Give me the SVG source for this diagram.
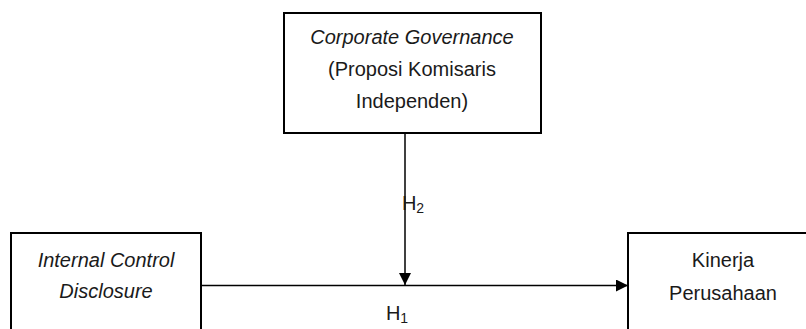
<svg xmlns="http://www.w3.org/2000/svg" width="806" height="329" viewBox="0 0 806 329">
<style>
.box{fill:#fff;stroke:#000;stroke-width:2}
.t{font-family:"Liberation Sans",Arial,sans-serif;font-size:20px;fill:#1a1a1a;text-anchor:middle}
.i{font-style:italic}
.ln{stroke:#000;stroke-width:1.5;fill:none}
</style>
<defs>
<marker id="ah" markerWidth="12" markerHeight="12" refX="12" refY="6" orient="auto" markerUnits="userSpaceOnUse">
<path d="M0,0 L12,6 L0,12 Z" fill="#000"/>
</marker>
</defs>
<g id="connectors">
<line class="ln" x1="201" y1="285.5" x2="628" y2="285.5" marker-end="url(#ah)"/>
<line class="ln" x1="405" y1="133" x2="405" y2="285" marker-end="url(#ah)"/>
<text class="t" x="413" y="210" text-anchor="start" font-size="21">H<tspan font-size="14" dy="3">2</tspan></text>
<text class="t" x="397" y="320" text-anchor="start" font-size="21">H<tspan font-size="14" dy="3">1</tspan></text>
</g>
<g id="node-cg">
<rect class="box" x="284" y="13" width="257" height="120"/>
<text class="t i" x="412" y="44">Corporate Governance</text>
<text class="t" x="412" y="76">(Proposi Komisaris</text>
<text class="t" x="412" y="108">Independen)</text>
</g>
<g id="node-icd">
<rect class="box" x="11" y="233" width="190" height="110"/>
<text class="t i" x="106" y="267">Internal Control</text>
<text class="t i" x="106" y="298">Disclosure</text>
</g>
<g id="node-kp">
<rect class="box" x="628" y="233" width="200" height="110"/>
<text class="t" x="723" y="267">Kinerja</text>
<text class="t" x="723" y="300">Perusahaan</text>
</g>
</svg>
